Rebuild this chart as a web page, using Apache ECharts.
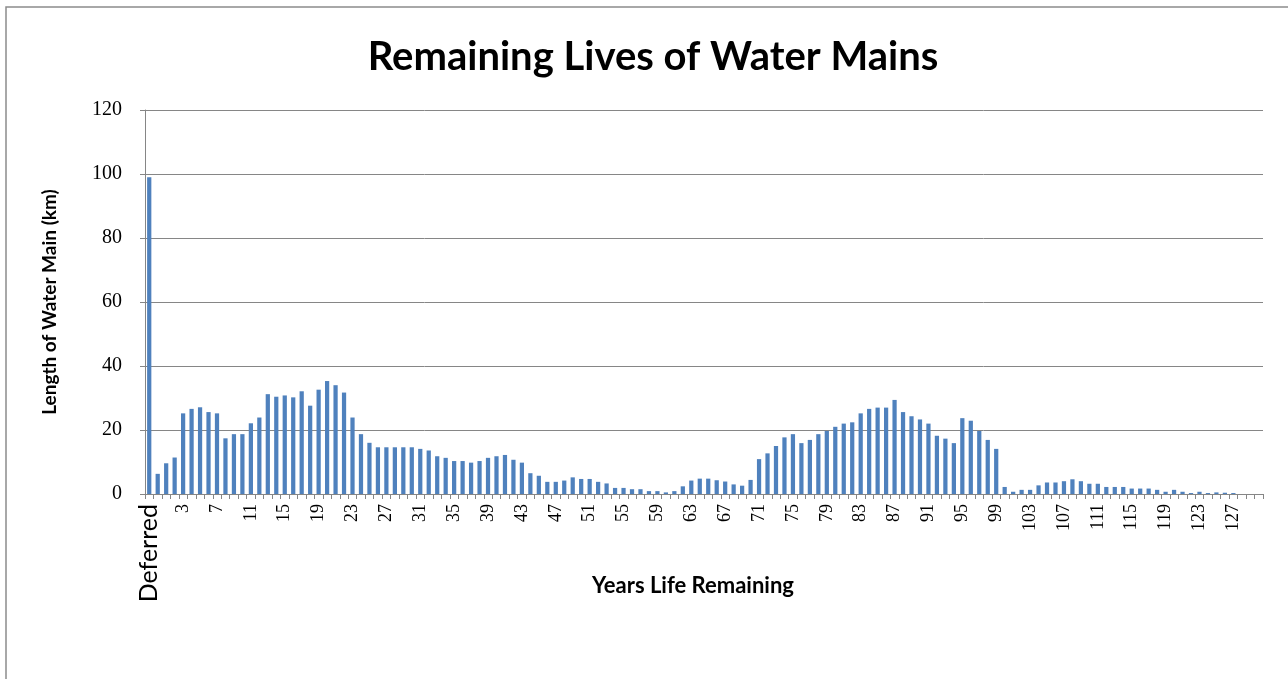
<!DOCTYPE html>
<html>
<head>
<meta charset="utf-8">
<script src="https://cdn.jsdelivr.net/npm/echarts@6/dist/echarts.min.js"></script>
<style>
  html, body { margin: 0; padding: 0; background: #fff; }
  #chart { width: 1288px; height: 679px; }
</style>
</head>
<body>
<div id="chart"></div>
<script>
// 分类：Deferred + 0..130 年
var years = [];
for (var y = 0; y <= 130; y++) { years.push(String(y)); }
var categories = ['Deferred'].concat(years);

// 长度 (km)
var deferredValue = [99];
var lengths0to32 = [
  6.3, 9.6, 11.4, 25.2, 26.6, 27.1, 25.6, 25.2, 17.4, 18.7,
  18.7, 22.1, 23.9, 31.2, 30.4, 30.8, 30.2, 32.1, 27.6, 32.6,
  35.3, 34.0, 31.7, 23.9, 18.7, 16.0, 14.6, 14.6, 14.6, 14.6,
  14.6, 14.1
];
var lengths32to70 = [
  13.6, 11.8, 11.3, 10.3, 10.3, 9.8, 10.3, 11.3, 11.8, 12.2,
  10.7, 9.8, 6.5, 5.7, 3.8, 3.8, 4.2, 5.2, 4.7, 4.7,
  3.8, 3.3, 1.9, 1.9, 1.5, 1.5, 0.9, 0.9, 0.5, 0.9,
  2.4, 4.2, 4.8, 4.8, 4.3, 3.9, 3.0, 2.6
];
var lengths70to100 = [
  4.4, 10.9, 12.7, 15.0, 17.7, 18.7, 15.9, 16.9, 18.7, 19.7,
  21.0, 22.0, 22.4, 25.2, 26.6, 27.0, 27.0, 29.4, 25.6, 24.3,
  23.3, 22.0, 18.2, 17.3, 15.9, 23.7, 22.9, 19.7, 16.9, 14.1
];
var lengths100to130 = [
  2.2, 0.7, 1.3, 1.3, 2.7, 3.6, 3.6, 4.0, 4.6, 4.0,
  3.2, 3.2, 2.2, 2.2, 2.2, 1.7, 1.7, 1.7, 1.3, 0.7,
  1.3, 0.7, 0.3, 0.7, 0.3, 0.5, 0.4, 0.3, 0, 0,
  0
];
var values = deferredValue.concat(lengths0to32, lengths32to70, lengths70to100, lengths100to130);

var yTicks = [0, 20, 40, 60, 80, 100, 120];

var chart = echarts.init(document.getElementById('chart'));

var option = {
  animation: false,
  backgroundColor: '#fff',
  graphic: [{
    type: 'rect',
    shape: { x: 6, y: 7, width: 1300, height: 700 },
    style: { fill: 'none', stroke: '#8c8c8c', lineWidth: 1.5 },
    silent: true
  }],
  title: [
    {
      text: 'Remaining Lives of Water Mains',
      left: 648,
      top: 32,
      textAlign: 'center',
      textStyle: { fontFamily: 'Lato', fontWeight: 'bold', fontSize: 40, color: '#000' }
    },
    {
      text: 'Years Life Remaining',
      left: 688,
      top: 570,
      textAlign: 'center',
      textStyle: { fontFamily: 'Lato', fontWeight: 'bold', fontSize: 22, color: '#000' }
    }
  ],
  grid: {
    left: 145,
    right: 25,
    top: 110,
    bottom: 185,
    containLabel: false
  },
  xAxis: {
    type: 'category',
    data: categories,
    boundaryGap: true,
    axisLine: { lineStyle: { color: '#868686', width: 1 } },
    axisTick: { show: true, interval: 0, length: 5, lineStyle: { color: '#868686' } },
    axisLabel: {
      interval: 3,
      rotate: 90,
      margin: 10,
      fontFamily: 'Liberation Serif',
      fontSize: 18,
      color: '#000',
      formatter: function (v) {
        return v === 'Deferred' ? '{d|' + v + '}' : v;
      },
      rich: {
        d: { fontFamily: 'Lato', fontSize: 25, color: '#000' }
      }
    }
  },
  yAxis: {
    type: 'value',
    min: yTicks[0],
    max: yTicks[yTicks.length - 1],
    interval: 20,
    name: 'Length of Water Main (km)',
    nameLocation: 'middle',
    nameRotate: 90,
    nameGap: 86,
    nameTextStyle: { fontFamily: 'Lato', fontWeight: 'bold', fontSize: 19, color: '#000' },
    axisLine: { show: true, lineStyle: { color: '#868686', width: 1 } },
    axisTick: { show: true, length: 5, lineStyle: { color: '#868686' } },
    axisLabel: {
      margin: 23,
      fontFamily: 'Liberation Serif',
      fontSize: 20,
      color: '#000'
    },
    splitLine: { lineStyle: { color: '#868686', width: 1 } }
  },
  series: [{
    name: 'Length',
    type: 'bar',
    data: values,
    barWidth: '50%',
    itemStyle: { color: '#4f81bd' }
  }]
};

chart.setOption(option);
</script>
</body>
</html>
